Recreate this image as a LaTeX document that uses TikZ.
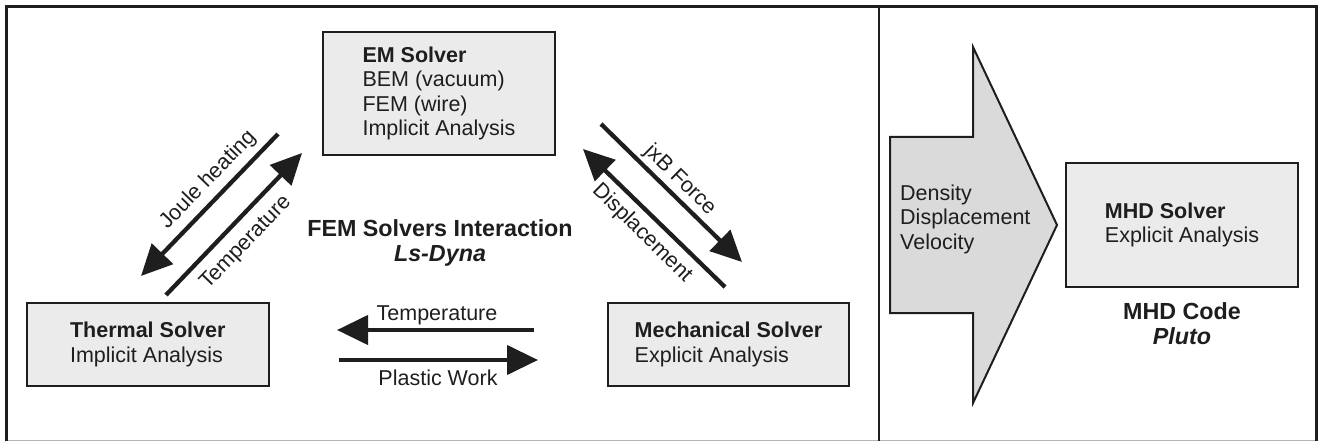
\documentclass[tikz,border=0pt]{standalone}
\usepackage{fontspec}
\setmainfont{Liberation Sans}
\usetikzlibrary{arrows.meta}
\definecolor{boxfill}{HTML}{EBEBEB}
\definecolor{arrowfill}{HTML}{DADADA}
\definecolor{ink}{HTML}{1E1E1E}
\definecolor{framelow}{HTML}{B4B4B4}
\begin{document}
\begin{tikzpicture}[x=1pt,y=-1pt,
  every node/.style={font=\fontsize{21.5pt}{24.5pt}\selectfont, text=ink},
  solverbox/.style={draw=ink, line width=2pt, fill=boxfill, align=left, inner sep=0pt},
  flow/.style={line width=4.3pt, draw=ink, -{Triangle[length=31pt,width=29pt]}},
  lbl/.style={inner sep=0pt},
  titletext/.style={inner sep=0pt, align=center, font=\fontsize{23.3pt}{25pt}\selectfont\bfseries}
]
\useasboundingbox (0,0) rectangle (1321,443);
% frame
\draw[framelow, line width=1.5pt] (6.5,440.5) -- (1316.5,440.5);
\draw[ink, line width=3pt] (6.5,441) -- (6.5,6.5) -- (1316.5,6.5) -- (1316.5,441);
\draw[ink, line width=2pt] (879,6.5) -- (879,441);

% solver boxes
\node[solverbox, minimum width=232pt, minimum height=123pt] (em) at (439,93.5)
  {\textbf{EM Solver}\\BEM (vacuum)\\FEM (wire)\\Implicit Analysis};
\node[solverbox, minimum width=241.5pt, minimum height=83pt] (thermal) at (147.75,344.5)
  {\textbf{Thermal Solver}\\Implicit Analysis};
\node[solverbox, minimum width=241pt, minimum height=83pt] (mech) at (728.5,344.5)
  {\textbf{Mechanical Solver}\\Explicit Analysis};
\node[solverbox, minimum width=232pt, minimum height=124pt] (mhd) at (1182,225)
  {\textbf{MHD Solver}\\Explicit Analysis};

% titles
\node[titletext] (fem) at (440,243.2) {FEM Solvers Interaction\\\textit{Ls-Dyna}};
\node[titletext] (mhdcode) at (1182,324) {MHD Code\\\textit{Pluto}};

% big transfer arrow
\draw[draw=ink, line width=2pt, fill=arrowfill, line join=miter]
  (890,137) -- (973,137) -- (973,47) -- (1057,225) -- (973,403) -- (973,313) -- (890,313) -- cycle;
\node[lbl, align=left, anchor=west] (vars) at (900,219.4) {Density\\Displacement\\Velocity};

% arrow end points
\coordinate (jhA) at (278,134);   \coordinate (jhB) at (141,276);
\coordinate (tdA) at (166,295);   \coordinate (tdB) at (302,153);
\coordinate (jxA) at (601,124);   \coordinate (jxB) at (742,262);
\coordinate (dsA) at (725,287);   \coordinate (dsB) at (583,149);
\coordinate (thA) at (534,330);   \coordinate (thB) at (337,330);
\coordinate (pwA) at (339,360);   \coordinate (pwB) at (538,360);

\draw[flow] (jhA) -- (jhB);
\draw[flow] (tdA) -- (tdB);
\draw[flow] (jxA) -- (jxB);
\draw[flow] (dsA) -- (dsB);
\draw[flow] (thA) -- (thB);
\draw[flow] (pwA) -- (pwB);

% arrow labels
\node[lbl, rotate=46] (ljh) at (208,180) {Joule heating};
\node[lbl, rotate=46] (ltd) at (246,243) {Temperature};
\node[lbl, rotate=-44.5] (ljx) at (680,180) {jxB Force};
\node[lbl, rotate=-44.5] (lds) at (642,233) {Displacement};
\node[lbl, anchor=base] (lth) at (437,320) {Temperature};
\node[lbl, anchor=base] (lpw) at (438,385) {Plastic Work};
\end{tikzpicture}
\end{document}
